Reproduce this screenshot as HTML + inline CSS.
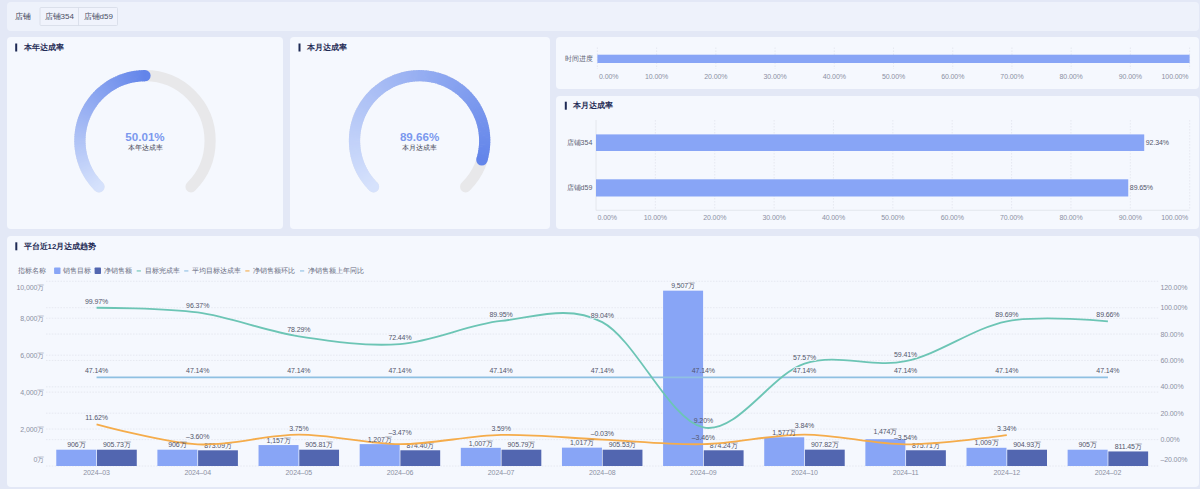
<!DOCTYPE html>
<html><head><meta charset="utf-8"><style>
html,body{margin:0;padding:0;}
body{width:1200px;height:489px;background:#e3e8f6;position:relative;overflow:hidden;font-family:"Liberation Sans", sans-serif;}
svg{position:absolute;left:0;top:0;}
svg text{font-family:"Liberation Sans", sans-serif;}
</style></head><body>
<div style="position:absolute;left:7px;top:2px;width:1192px;height:29px;background:#eef2fb;border-radius:4px"></div>
<div style="position:absolute;left:7px;top:37px;width:276px;height:192.3px;background:#f5f8fe;border-radius:4px"></div>
<div style="position:absolute;left:290px;top:37px;width:259.5px;height:192.3px;background:#f5f8fe;border-radius:4px"></div>
<div style="position:absolute;left:556px;top:37px;width:643px;height:52px;background:#f5f8fe;border-radius:4px"></div>
<div style="position:absolute;left:556px;top:96px;width:643px;height:133.3px;background:#f5f8fe;border-radius:4px"></div>
<div style="position:absolute;left:7px;top:236px;width:1192px;height:250.5px;background:#f5f8fe;border-radius:4px"></div>
<svg width="1200" height="489" viewBox="0 0 1200 489">
<text x="15.00" y="16.60" font-size="8" fill="#3d4257" text-anchor="start" dominant-baseline="central" font-weight="normal" >店铺</text>
<rect x="40" y="7.5" width="77.5" height="18" fill="#f0f3fc" stroke="#d6dbe7" stroke-width="0.8" rx="1"/>
<line x1="78.5" y1="7.5" x2="78.5" y2="25.5" stroke="#d6dbe7" stroke-width="0.8"/>
<text x="59.20" y="16.60" font-size="8" fill="#4a4f66" text-anchor="middle" dominant-baseline="central" font-weight="normal" >店铺354</text>
<text x="98.20" y="16.60" font-size="8" fill="#4a4f66" text-anchor="middle" dominant-baseline="central" font-weight="normal" >店铺d59</text>
<rect x="15.2" y="43.5" width="2" height="8" fill="#1e2a55"/>
<text x="23.50" y="47.50" font-size="7.8" fill="#1e2a55" text-anchor="start" dominant-baseline="central" font-weight="bold" >本年达成率</text>
<rect x="298.5" y="43.5" width="2" height="8" fill="#1e2a55"/>
<text x="306.80" y="47.50" font-size="7.8" fill="#1e2a55" text-anchor="start" dominant-baseline="central" font-weight="bold" >本月达成率</text>
<rect x="564.8" y="101.7" width="2" height="8" fill="#1e2a55"/>
<text x="573.10" y="105.70" font-size="7.8" fill="#1e2a55" text-anchor="start" dominant-baseline="central" font-weight="bold" >本月达成率</text>
<rect x="15.3" y="242.3" width="2" height="8" fill="#1e2a55"/>
<text x="23.60" y="246.30" font-size="7.8" fill="#1e2a55" text-anchor="start" dominant-baseline="central" font-weight="bold" >平台近12月达成趋势</text>
<path d="M98.97,186.83 A65.1,65.1 0 1 1 191.03,186.83" fill="none" stroke="#e8e8ea" stroke-width="11.2" stroke-linecap="round"/>
<circle cx="98.97" cy="186.83" r="5.6" fill="#d6e2fc"/>
<circle cx="145.03" cy="75.70" r="5.6" fill="#6385ea"/>
<path d="M98.97,186.83 A65.1,65.1 0 0 1 96.93,184.70" fill="none" stroke="#d5e1fc" stroke-width="11.2"/>
<path d="M97.39,185.20 A65.1,65.1 0 0 1 95.42,182.99" fill="none" stroke="#d3e0fc" stroke-width="11.2"/>
<path d="M95.87,183.51 A65.1,65.1 0 0 1 93.98,181.24" fill="none" stroke="#d2dffb" stroke-width="11.2"/>
<path d="M94.41,181.77 A65.1,65.1 0 0 1 92.60,179.43" fill="none" stroke="#d0ddfb" stroke-width="11.2"/>
<path d="M93.01,179.98 A65.1,65.1 0 0 1 91.29,177.58" fill="none" stroke="#cedcfb" stroke-width="11.2"/>
<path d="M91.67,178.14 A65.1,65.1 0 0 1 90.03,175.68" fill="none" stroke="#cddafb" stroke-width="11.2"/>
<path d="M90.40,176.26 A65.1,65.1 0 0 1 88.85,173.74" fill="none" stroke="#cbd9fa" stroke-width="11.2"/>
<path d="M89.20,174.33 A65.1,65.1 0 0 1 87.73,171.76" fill="none" stroke="#c9d8fa" stroke-width="11.2"/>
<path d="M88.06,172.36 A65.1,65.1 0 0 1 86.69,169.75" fill="none" stroke="#c8d6fa" stroke-width="11.2"/>
<path d="M87.00,170.35 A65.1,65.1 0 0 1 85.71,167.69" fill="none" stroke="#c6d5f9" stroke-width="11.2"/>
<path d="M86.00,168.31 A65.1,65.1 0 0 1 84.81,165.61" fill="none" stroke="#c4d4f9" stroke-width="11.2"/>
<path d="M85.08,166.24 A65.1,65.1 0 0 1 83.98,163.49" fill="none" stroke="#c2d2f9" stroke-width="11.2"/>
<path d="M84.22,164.13 A65.1,65.1 0 0 1 83.23,161.35" fill="none" stroke="#c1d1f9" stroke-width="11.2"/>
<path d="M83.45,161.99 A65.1,65.1 0 0 1 82.55,159.18" fill="none" stroke="#bfcff8" stroke-width="11.2"/>
<path d="M82.74,159.83 A65.1,65.1 0 0 1 81.95,156.99" fill="none" stroke="#bdcef8" stroke-width="11.2"/>
<path d="M82.12,157.65 A65.1,65.1 0 0 1 81.42,154.78" fill="none" stroke="#bccdf8" stroke-width="11.2"/>
<path d="M81.57,155.44 A65.1,65.1 0 0 1 80.97,152.55" fill="none" stroke="#bacbf8" stroke-width="11.2"/>
<path d="M81.10,153.22 A65.1,65.1 0 0 1 80.60,150.31" fill="none" stroke="#b8caf7" stroke-width="11.2"/>
<path d="M80.70,150.98 A65.1,65.1 0 0 1 80.31,148.06" fill="none" stroke="#b6c9f7" stroke-width="11.2"/>
<path d="M80.39,148.73 A65.1,65.1 0 0 1 80.09,145.79" fill="none" stroke="#b5c7f7" stroke-width="11.2"/>
<path d="M80.15,146.47 A65.1,65.1 0 0 1 79.96,143.53" fill="none" stroke="#b3c6f7" stroke-width="11.2"/>
<path d="M79.99,144.21 A65.1,65.1 0 0 1 79.90,141.25" fill="none" stroke="#b1c4f6" stroke-width="11.2"/>
<path d="M79.91,141.94 A65.1,65.1 0 0 1 79.93,138.98" fill="none" stroke="#b0c3f6" stroke-width="11.2"/>
<path d="M79.91,139.66 A65.1,65.1 0 0 1 80.03,136.71" fill="none" stroke="#aec2f6" stroke-width="11.2"/>
<path d="M79.99,137.39 A65.1,65.1 0 0 1 80.21,134.45" fill="none" stroke="#acc0f5" stroke-width="11.2"/>
<path d="M80.15,135.13 A65.1,65.1 0 0 1 80.47,132.19" fill="none" stroke="#abbff5" stroke-width="11.2"/>
<path d="M80.39,132.87 A65.1,65.1 0 0 1 80.81,129.94" fill="none" stroke="#a9bdf5" stroke-width="11.2"/>
<path d="M80.70,130.62 A65.1,65.1 0 0 1 81.23,127.71" fill="none" stroke="#a7bcf5" stroke-width="11.2"/>
<path d="M81.10,128.38 A65.1,65.1 0 0 1 81.73,125.49" fill="none" stroke="#a5bbf4" stroke-width="11.2"/>
<path d="M81.57,126.16 A65.1,65.1 0 0 1 82.30,123.29" fill="none" stroke="#a4b9f4" stroke-width="11.2"/>
<path d="M82.12,123.95 A65.1,65.1 0 0 1 82.95,121.12" fill="none" stroke="#a2b8f4" stroke-width="11.2"/>
<path d="M82.74,121.77 A65.1,65.1 0 0 1 83.67,118.96" fill="none" stroke="#a0b7f4" stroke-width="11.2"/>
<path d="M83.45,119.61 A65.1,65.1 0 0 1 84.47,116.84" fill="none" stroke="#9fb5f3" stroke-width="11.2"/>
<path d="M84.22,117.47 A65.1,65.1 0 0 1 85.34,114.74" fill="none" stroke="#9db4f3" stroke-width="11.2"/>
<path d="M85.08,115.36 A65.1,65.1 0 0 1 86.29,112.67" fill="none" stroke="#9bb2f3" stroke-width="11.2"/>
<path d="M86.00,113.29 A65.1,65.1 0 0 1 87.31,110.64" fill="none" stroke="#9ab1f3" stroke-width="11.2"/>
<path d="M87.00,111.25 A65.1,65.1 0 0 1 88.40,108.64" fill="none" stroke="#98b0f2" stroke-width="11.2"/>
<path d="M88.06,109.24 A65.1,65.1 0 0 1 89.55,106.69" fill="none" stroke="#96aef2" stroke-width="11.2"/>
<path d="M89.20,107.27 A65.1,65.1 0 0 1 90.78,104.77" fill="none" stroke="#94adf2" stroke-width="11.2"/>
<path d="M90.40,105.34 A65.1,65.1 0 0 1 92.07,102.90" fill="none" stroke="#93acf1" stroke-width="11.2"/>
<path d="M91.67,103.46 A65.1,65.1 0 0 1 93.42,101.08" fill="none" stroke="#91aaf1" stroke-width="11.2"/>
<path d="M93.01,101.62 A65.1,65.1 0 0 1 94.84,99.30" fill="none" stroke="#8fa9f1" stroke-width="11.2"/>
<path d="M94.41,99.83 A65.1,65.1 0 0 1 96.32,97.58" fill="none" stroke="#8ea7f1" stroke-width="11.2"/>
<path d="M95.87,98.09 A65.1,65.1 0 0 1 97.86,95.91" fill="none" stroke="#8ca6f0" stroke-width="11.2"/>
<path d="M97.39,96.40 A65.1,65.1 0 0 1 99.45,94.29" fill="none" stroke="#8aa5f0" stroke-width="11.2"/>
<path d="M98.97,94.77 A65.1,65.1 0 0 1 101.10,92.73" fill="none" stroke="#88a3f0" stroke-width="11.2"/>
<path d="M100.60,93.19 A65.1,65.1 0 0 1 102.81,91.22" fill="none" stroke="#87a2f0" stroke-width="11.2"/>
<path d="M102.29,91.67 A65.1,65.1 0 0 1 104.56,89.78" fill="none" stroke="#85a1ef" stroke-width="11.2"/>
<path d="M104.03,90.21 A65.1,65.1 0 0 1 106.37,88.40" fill="none" stroke="#839fef" stroke-width="11.2"/>
<path d="M105.82,88.81 A65.1,65.1 0 0 1 108.22,87.09" fill="none" stroke="#829eef" stroke-width="11.2"/>
<path d="M107.66,87.47 A65.1,65.1 0 0 1 110.12,85.83" fill="none" stroke="#809cef" stroke-width="11.2"/>
<path d="M109.54,86.20 A65.1,65.1 0 0 1 112.06,84.65" fill="none" stroke="#7e9bee" stroke-width="11.2"/>
<path d="M111.47,85.00 A65.1,65.1 0 0 1 114.04,83.53" fill="none" stroke="#7d9aee" stroke-width="11.2"/>
<path d="M113.44,83.86 A65.1,65.1 0 0 1 116.05,82.49" fill="none" stroke="#7b98ee" stroke-width="11.2"/>
<path d="M115.45,82.80 A65.1,65.1 0 0 1 118.11,81.51" fill="none" stroke="#7997ed" stroke-width="11.2"/>
<path d="M117.49,81.80 A65.1,65.1 0 0 1 120.19,80.61" fill="none" stroke="#7796ed" stroke-width="11.2"/>
<path d="M119.56,80.88 A65.1,65.1 0 0 1 122.31,79.78" fill="none" stroke="#7694ed" stroke-width="11.2"/>
<path d="M121.67,80.02 A65.1,65.1 0 0 1 124.45,79.03" fill="none" stroke="#7493ed" stroke-width="11.2"/>
<path d="M123.81,79.25 A65.1,65.1 0 0 1 126.62,78.35" fill="none" stroke="#7291ec" stroke-width="11.2"/>
<path d="M125.97,78.54 A65.1,65.1 0 0 1 128.81,77.75" fill="none" stroke="#7190ec" stroke-width="11.2"/>
<path d="M128.15,77.92 A65.1,65.1 0 0 1 131.02,77.22" fill="none" stroke="#6f8fec" stroke-width="11.2"/>
<path d="M130.36,77.37 A65.1,65.1 0 0 1 133.25,76.77" fill="none" stroke="#6d8dec" stroke-width="11.2"/>
<path d="M132.58,76.90 A65.1,65.1 0 0 1 135.49,76.40" fill="none" stroke="#6c8ceb" stroke-width="11.2"/>
<path d="M134.82,76.50 A65.1,65.1 0 0 1 137.74,76.11" fill="none" stroke="#6a8beb" stroke-width="11.2"/>
<path d="M137.07,76.19 A65.1,65.1 0 0 1 140.01,75.89" fill="none" stroke="#6889eb" stroke-width="11.2"/>
<path d="M139.33,75.95 A65.1,65.1 0 0 1 142.27,75.76" fill="none" stroke="#6688eb" stroke-width="11.2"/>
<path d="M141.59,75.79 A65.1,65.1 0 0 1 144.55,75.70" fill="none" stroke="#6586ea" stroke-width="11.2"/>
<path d="M143.86,75.71 A65.1,65.1 0 0 1 145.03,75.70" fill="none" stroke="#6385ea" stroke-width="11.2"/>
<text x="145.00" y="136.10" font-size="11.6" fill="#7b98ee" text-anchor="middle" dominant-baseline="central" font-weight="bold" >50.01%</text>
<text x="145.00" y="147.40" font-size="6.8" fill="#3f4354" text-anchor="middle" dominant-baseline="central" font-weight="normal" >本年达成率</text>
<path d="M373.57,186.83 A65.1,65.1 0 1 1 465.63,186.83" fill="none" stroke="#e8e8ea" stroke-width="11.2" stroke-linecap="round"/>
<circle cx="373.57" cy="186.83" r="5.6" fill="#d6e2fc"/>
<circle cx="481.83" cy="159.92" r="5.6" fill="#6385ea"/>
<path d="M373.57,186.83 A65.1,65.1 0 0 1 371.53,184.70" fill="none" stroke="#d6e2fc" stroke-width="11.2"/>
<path d="M371.99,185.20 A65.1,65.1 0 0 1 370.02,182.99" fill="none" stroke="#d5e1fc" stroke-width="11.2"/>
<path d="M370.47,183.51 A65.1,65.1 0 0 1 368.58,181.24" fill="none" stroke="#d4e0fc" stroke-width="11.2"/>
<path d="M369.01,181.77 A65.1,65.1 0 0 1 367.20,179.43" fill="none" stroke="#d3dffb" stroke-width="11.2"/>
<path d="M367.61,179.98 A65.1,65.1 0 0 1 365.89,177.58" fill="none" stroke="#d2dffb" stroke-width="11.2"/>
<path d="M366.27,178.14 A65.1,65.1 0 0 1 364.63,175.68" fill="none" stroke="#d1defb" stroke-width="11.2"/>
<path d="M365.00,176.26 A65.1,65.1 0 0 1 363.45,173.74" fill="none" stroke="#d0ddfb" stroke-width="11.2"/>
<path d="M363.80,174.33 A65.1,65.1 0 0 1 362.33,171.76" fill="none" stroke="#cfdcfb" stroke-width="11.2"/>
<path d="M362.66,172.36 A65.1,65.1 0 0 1 361.29,169.75" fill="none" stroke="#cedbfb" stroke-width="11.2"/>
<path d="M361.60,170.35 A65.1,65.1 0 0 1 360.31,167.69" fill="none" stroke="#cddbfb" stroke-width="11.2"/>
<path d="M360.60,168.31 A65.1,65.1 0 0 1 359.41,165.61" fill="none" stroke="#ccdafa" stroke-width="11.2"/>
<path d="M359.68,166.24 A65.1,65.1 0 0 1 358.58,163.49" fill="none" stroke="#cbd9fa" stroke-width="11.2"/>
<path d="M358.82,164.13 A65.1,65.1 0 0 1 357.83,161.35" fill="none" stroke="#cad8fa" stroke-width="11.2"/>
<path d="M358.05,161.99 A65.1,65.1 0 0 1 357.15,159.18" fill="none" stroke="#c9d8fa" stroke-width="11.2"/>
<path d="M357.34,159.83 A65.1,65.1 0 0 1 356.55,156.99" fill="none" stroke="#c8d7fa" stroke-width="11.2"/>
<path d="M356.72,157.65 A65.1,65.1 0 0 1 356.02,154.78" fill="none" stroke="#c7d6fa" stroke-width="11.2"/>
<path d="M356.17,155.44 A65.1,65.1 0 0 1 355.57,152.55" fill="none" stroke="#c6d5fa" stroke-width="11.2"/>
<path d="M355.70,153.22 A65.1,65.1 0 0 1 355.20,150.31" fill="none" stroke="#c5d5f9" stroke-width="11.2"/>
<path d="M355.30,150.98 A65.1,65.1 0 0 1 354.91,148.06" fill="none" stroke="#c4d4f9" stroke-width="11.2"/>
<path d="M354.99,148.73 A65.1,65.1 0 0 1 354.69,145.79" fill="none" stroke="#c3d3f9" stroke-width="11.2"/>
<path d="M354.75,146.47 A65.1,65.1 0 0 1 354.56,143.53" fill="none" stroke="#c3d2f9" stroke-width="11.2"/>
<path d="M354.59,144.21 A65.1,65.1 0 0 1 354.50,141.25" fill="none" stroke="#c2d1f9" stroke-width="11.2"/>
<path d="M354.51,141.94 A65.1,65.1 0 0 1 354.53,138.98" fill="none" stroke="#c1d1f9" stroke-width="11.2"/>
<path d="M354.51,139.66 A65.1,65.1 0 0 1 354.63,136.71" fill="none" stroke="#c0d0f9" stroke-width="11.2"/>
<path d="M354.59,137.39 A65.1,65.1 0 0 1 354.81,134.45" fill="none" stroke="#bfcff8" stroke-width="11.2"/>
<path d="M354.75,135.13 A65.1,65.1 0 0 1 355.07,132.19" fill="none" stroke="#becef8" stroke-width="11.2"/>
<path d="M354.99,132.87 A65.1,65.1 0 0 1 355.41,129.94" fill="none" stroke="#bdcef8" stroke-width="11.2"/>
<path d="M355.30,130.62 A65.1,65.1 0 0 1 355.83,127.71" fill="none" stroke="#bccdf8" stroke-width="11.2"/>
<path d="M355.70,128.38 A65.1,65.1 0 0 1 356.33,125.49" fill="none" stroke="#bbccf8" stroke-width="11.2"/>
<path d="M356.17,126.16 A65.1,65.1 0 0 1 356.90,123.29" fill="none" stroke="#bacbf8" stroke-width="11.2"/>
<path d="M356.72,123.95 A65.1,65.1 0 0 1 357.55,121.12" fill="none" stroke="#b9cbf7" stroke-width="11.2"/>
<path d="M357.34,121.77 A65.1,65.1 0 0 1 358.27,118.96" fill="none" stroke="#b8caf7" stroke-width="11.2"/>
<path d="M358.05,119.61 A65.1,65.1 0 0 1 359.07,116.84" fill="none" stroke="#b7c9f7" stroke-width="11.2"/>
<path d="M358.82,117.47 A65.1,65.1 0 0 1 359.94,114.74" fill="none" stroke="#b6c8f7" stroke-width="11.2"/>
<path d="M359.68,115.36 A65.1,65.1 0 0 1 360.89,112.67" fill="none" stroke="#b5c7f7" stroke-width="11.2"/>
<path d="M360.60,113.29 A65.1,65.1 0 0 1 361.91,110.64" fill="none" stroke="#b4c7f7" stroke-width="11.2"/>
<path d="M361.60,111.25 A65.1,65.1 0 0 1 363.00,108.64" fill="none" stroke="#b3c6f7" stroke-width="11.2"/>
<path d="M362.66,109.24 A65.1,65.1 0 0 1 364.15,106.69" fill="none" stroke="#b2c5f6" stroke-width="11.2"/>
<path d="M363.80,107.27 A65.1,65.1 0 0 1 365.38,104.77" fill="none" stroke="#b1c4f6" stroke-width="11.2"/>
<path d="M365.00,105.34 A65.1,65.1 0 0 1 366.67,102.90" fill="none" stroke="#b0c4f6" stroke-width="11.2"/>
<path d="M366.27,103.46 A65.1,65.1 0 0 1 368.02,101.08" fill="none" stroke="#b0c3f6" stroke-width="11.2"/>
<path d="M367.61,101.62 A65.1,65.1 0 0 1 369.44,99.30" fill="none" stroke="#afc2f6" stroke-width="11.2"/>
<path d="M369.01,99.83 A65.1,65.1 0 0 1 370.92,97.58" fill="none" stroke="#aec1f6" stroke-width="11.2"/>
<path d="M370.47,98.09 A65.1,65.1 0 0 1 372.46,95.91" fill="none" stroke="#adc1f6" stroke-width="11.2"/>
<path d="M371.99,96.40 A65.1,65.1 0 0 1 374.05,94.29" fill="none" stroke="#acc0f5" stroke-width="11.2"/>
<path d="M373.57,94.77 A65.1,65.1 0 0 1 375.70,92.73" fill="none" stroke="#abbff5" stroke-width="11.2"/>
<path d="M375.20,93.19 A65.1,65.1 0 0 1 377.41,91.22" fill="none" stroke="#aabef5" stroke-width="11.2"/>
<path d="M376.89,91.67 A65.1,65.1 0 0 1 379.16,89.78" fill="none" stroke="#a9bef5" stroke-width="11.2"/>
<path d="M378.63,90.21 A65.1,65.1 0 0 1 380.97,88.40" fill="none" stroke="#a8bdf5" stroke-width="11.2"/>
<path d="M380.42,88.81 A65.1,65.1 0 0 1 382.82,87.09" fill="none" stroke="#a7bcf5" stroke-width="11.2"/>
<path d="M382.26,87.47 A65.1,65.1 0 0 1 384.72,85.83" fill="none" stroke="#a6bbf4" stroke-width="11.2"/>
<path d="M384.14,86.20 A65.1,65.1 0 0 1 386.66,84.65" fill="none" stroke="#a5baf4" stroke-width="11.2"/>
<path d="M386.07,85.00 A65.1,65.1 0 0 1 388.64,83.53" fill="none" stroke="#a4baf4" stroke-width="11.2"/>
<path d="M388.04,83.86 A65.1,65.1 0 0 1 390.65,82.49" fill="none" stroke="#a3b9f4" stroke-width="11.2"/>
<path d="M390.05,82.80 A65.1,65.1 0 0 1 392.71,81.51" fill="none" stroke="#a2b8f4" stroke-width="11.2"/>
<path d="M392.09,81.80 A65.1,65.1 0 0 1 394.79,80.61" fill="none" stroke="#a1b7f4" stroke-width="11.2"/>
<path d="M394.16,80.88 A65.1,65.1 0 0 1 396.91,79.78" fill="none" stroke="#a0b7f4" stroke-width="11.2"/>
<path d="M396.27,80.02 A65.1,65.1 0 0 1 399.05,79.03" fill="none" stroke="#9fb6f3" stroke-width="11.2"/>
<path d="M398.41,79.25 A65.1,65.1 0 0 1 401.22,78.35" fill="none" stroke="#9eb5f3" stroke-width="11.2"/>
<path d="M400.57,78.54 A65.1,65.1 0 0 1 403.41,77.75" fill="none" stroke="#9db4f3" stroke-width="11.2"/>
<path d="M402.75,77.92 A65.1,65.1 0 0 1 405.62,77.22" fill="none" stroke="#9db4f3" stroke-width="11.2"/>
<path d="M404.96,77.37 A65.1,65.1 0 0 1 407.85,76.77" fill="none" stroke="#9cb3f3" stroke-width="11.2"/>
<path d="M407.18,76.90 A65.1,65.1 0 0 1 410.09,76.40" fill="none" stroke="#9bb2f3" stroke-width="11.2"/>
<path d="M409.42,76.50 A65.1,65.1 0 0 1 412.34,76.11" fill="none" stroke="#9ab1f3" stroke-width="11.2"/>
<path d="M411.67,76.19 A65.1,65.1 0 0 1 414.61,75.89" fill="none" stroke="#99b0f2" stroke-width="11.2"/>
<path d="M413.93,75.95 A65.1,65.1 0 0 1 416.87,75.76" fill="none" stroke="#98b0f2" stroke-width="11.2"/>
<path d="M416.19,75.79 A65.1,65.1 0 0 1 419.15,75.70" fill="none" stroke="#97aff2" stroke-width="11.2"/>
<path d="M418.46,75.71 A65.1,65.1 0 0 1 421.42,75.73" fill="none" stroke="#96aef2" stroke-width="11.2"/>
<path d="M420.74,75.71 A65.1,65.1 0 0 1 423.69,75.83" fill="none" stroke="#95adf2" stroke-width="11.2"/>
<path d="M423.01,75.79 A65.1,65.1 0 0 1 425.95,76.01" fill="none" stroke="#94adf2" stroke-width="11.2"/>
<path d="M425.27,75.95 A65.1,65.1 0 0 1 428.21,76.27" fill="none" stroke="#93acf2" stroke-width="11.2"/>
<path d="M427.53,76.19 A65.1,65.1 0 0 1 430.46,76.61" fill="none" stroke="#92abf1" stroke-width="11.2"/>
<path d="M429.78,76.50 A65.1,65.1 0 0 1 432.69,77.03" fill="none" stroke="#91aaf1" stroke-width="11.2"/>
<path d="M432.02,76.90 A65.1,65.1 0 0 1 434.91,77.53" fill="none" stroke="#90aaf1" stroke-width="11.2"/>
<path d="M434.24,77.37 A65.1,65.1 0 0 1 437.11,78.10" fill="none" stroke="#8fa9f1" stroke-width="11.2"/>
<path d="M436.45,77.92 A65.1,65.1 0 0 1 439.28,78.75" fill="none" stroke="#8ea8f1" stroke-width="11.2"/>
<path d="M438.63,78.54 A65.1,65.1 0 0 1 441.44,79.47" fill="none" stroke="#8da7f1" stroke-width="11.2"/>
<path d="M440.79,79.25 A65.1,65.1 0 0 1 443.56,80.27" fill="none" stroke="#8ca6f0" stroke-width="11.2"/>
<path d="M442.93,80.02 A65.1,65.1 0 0 1 445.66,81.14" fill="none" stroke="#8ba6f0" stroke-width="11.2"/>
<path d="M445.04,80.88 A65.1,65.1 0 0 1 447.73,82.09" fill="none" stroke="#8aa5f0" stroke-width="11.2"/>
<path d="M447.11,81.80 A65.1,65.1 0 0 1 449.76,83.11" fill="none" stroke="#8aa4f0" stroke-width="11.2"/>
<path d="M449.15,82.80 A65.1,65.1 0 0 1 451.76,84.20" fill="none" stroke="#89a3f0" stroke-width="11.2"/>
<path d="M451.16,83.86 A65.1,65.1 0 0 1 453.71,85.35" fill="none" stroke="#88a3f0" stroke-width="11.2"/>
<path d="M453.13,85.00 A65.1,65.1 0 0 1 455.63,86.58" fill="none" stroke="#87a2f0" stroke-width="11.2"/>
<path d="M455.06,86.20 A65.1,65.1 0 0 1 457.50,87.87" fill="none" stroke="#86a1ef" stroke-width="11.2"/>
<path d="M456.94,87.47 A65.1,65.1 0 0 1 459.32,89.22" fill="none" stroke="#85a0ef" stroke-width="11.2"/>
<path d="M458.78,88.81 A65.1,65.1 0 0 1 461.10,90.64" fill="none" stroke="#84a0ef" stroke-width="11.2"/>
<path d="M460.57,90.21 A65.1,65.1 0 0 1 462.82,92.12" fill="none" stroke="#839fef" stroke-width="11.2"/>
<path d="M462.31,91.67 A65.1,65.1 0 0 1 464.49,93.66" fill="none" stroke="#829eef" stroke-width="11.2"/>
<path d="M464.00,93.19 A65.1,65.1 0 0 1 466.11,95.25" fill="none" stroke="#819def" stroke-width="11.2"/>
<path d="M465.63,94.77 A65.1,65.1 0 0 1 467.67,96.90" fill="none" stroke="#809cef" stroke-width="11.2"/>
<path d="M467.21,96.40 A65.1,65.1 0 0 1 469.18,98.61" fill="none" stroke="#7f9cee" stroke-width="11.2"/>
<path d="M468.73,98.09 A65.1,65.1 0 0 1 470.62,100.36" fill="none" stroke="#7e9bee" stroke-width="11.2"/>
<path d="M470.19,99.83 A65.1,65.1 0 0 1 472.00,102.17" fill="none" stroke="#7d9aee" stroke-width="11.2"/>
<path d="M471.59,101.62 A65.1,65.1 0 0 1 473.31,104.02" fill="none" stroke="#7c99ee" stroke-width="11.2"/>
<path d="M472.93,103.46 A65.1,65.1 0 0 1 474.57,105.92" fill="none" stroke="#7b99ee" stroke-width="11.2"/>
<path d="M474.20,105.34 A65.1,65.1 0 0 1 475.75,107.86" fill="none" stroke="#7a98ee" stroke-width="11.2"/>
<path d="M475.40,107.27 A65.1,65.1 0 0 1 476.87,109.84" fill="none" stroke="#7997ee" stroke-width="11.2"/>
<path d="M476.54,109.24 A65.1,65.1 0 0 1 477.91,111.85" fill="none" stroke="#7896ed" stroke-width="11.2"/>
<path d="M477.60,111.25 A65.1,65.1 0 0 1 478.89,113.91" fill="none" stroke="#7796ed" stroke-width="11.2"/>
<path d="M478.60,113.29 A65.1,65.1 0 0 1 479.79,115.99" fill="none" stroke="#7795ed" stroke-width="11.2"/>
<path d="M479.52,115.36 A65.1,65.1 0 0 1 480.62,118.11" fill="none" stroke="#7694ed" stroke-width="11.2"/>
<path d="M480.38,117.47 A65.1,65.1 0 0 1 481.37,120.25" fill="none" stroke="#7593ed" stroke-width="11.2"/>
<path d="M481.15,119.61 A65.1,65.1 0 0 1 482.05,122.42" fill="none" stroke="#7492ed" stroke-width="11.2"/>
<path d="M481.86,121.77 A65.1,65.1 0 0 1 482.65,124.61" fill="none" stroke="#7392ec" stroke-width="11.2"/>
<path d="M482.48,123.95 A65.1,65.1 0 0 1 483.18,126.82" fill="none" stroke="#7291ec" stroke-width="11.2"/>
<path d="M483.03,126.16 A65.1,65.1 0 0 1 483.63,129.05" fill="none" stroke="#7190ec" stroke-width="11.2"/>
<path d="M483.50,128.38 A65.1,65.1 0 0 1 484.00,131.29" fill="none" stroke="#708fec" stroke-width="11.2"/>
<path d="M483.90,130.62 A65.1,65.1 0 0 1 484.29,133.54" fill="none" stroke="#6f8fec" stroke-width="11.2"/>
<path d="M484.21,132.87 A65.1,65.1 0 0 1 484.51,135.81" fill="none" stroke="#6e8eec" stroke-width="11.2"/>
<path d="M484.45,135.13 A65.1,65.1 0 0 1 484.64,138.07" fill="none" stroke="#6d8dec" stroke-width="11.2"/>
<path d="M484.61,137.39 A65.1,65.1 0 0 1 484.70,140.35" fill="none" stroke="#6c8ceb" stroke-width="11.2"/>
<path d="M484.69,139.66 A65.1,65.1 0 0 1 484.67,142.62" fill="none" stroke="#6b8ceb" stroke-width="11.2"/>
<path d="M484.69,141.94 A65.1,65.1 0 0 1 484.57,144.89" fill="none" stroke="#6a8beb" stroke-width="11.2"/>
<path d="M484.61,144.21 A65.1,65.1 0 0 1 484.39,147.15" fill="none" stroke="#698aeb" stroke-width="11.2"/>
<path d="M484.45,146.47 A65.1,65.1 0 0 1 484.13,149.41" fill="none" stroke="#6889eb" stroke-width="11.2"/>
<path d="M484.21,148.73 A65.1,65.1 0 0 1 483.79,151.66" fill="none" stroke="#6788eb" stroke-width="11.2"/>
<path d="M483.90,150.98 A65.1,65.1 0 0 1 483.37,153.89" fill="none" stroke="#6688eb" stroke-width="11.2"/>
<path d="M483.50,153.22 A65.1,65.1 0 0 1 482.87,156.11" fill="none" stroke="#6587ea" stroke-width="11.2"/>
<path d="M483.03,155.44 A65.1,65.1 0 0 1 482.30,158.31" fill="none" stroke="#6486ea" stroke-width="11.2"/>
<path d="M482.48,157.65 A65.1,65.1 0 0 1 481.83,159.92" fill="none" stroke="#6485ea" stroke-width="11.2"/>
<path d="M481.86,159.83 A65.1,65.1 0 0 1 481.83,159.92" fill="none" stroke="#6385ea" stroke-width="11.2"/>
<text x="419.60" y="136.10" font-size="11.6" fill="#7b98ee" text-anchor="middle" dominant-baseline="central" font-weight="bold" >89.66%</text>
<text x="419.60" y="147.40" font-size="6.8" fill="#3f4354" text-anchor="middle" dominant-baseline="central" font-weight="normal" >本月达成率</text>
<line x1="597.40" y1="47.5" x2="597.40" y2="69" stroke="#e2e5ee" stroke-width="0.8" stroke-dasharray="1.5 1.5"/>
<line x1="656.62" y1="47.5" x2="656.62" y2="69" stroke="#e2e5ee" stroke-width="0.8" stroke-dasharray="1.5 1.5"/>
<line x1="715.84" y1="47.5" x2="715.84" y2="69" stroke="#e2e5ee" stroke-width="0.8" stroke-dasharray="1.5 1.5"/>
<line x1="775.06" y1="47.5" x2="775.06" y2="69" stroke="#e2e5ee" stroke-width="0.8" stroke-dasharray="1.5 1.5"/>
<line x1="834.28" y1="47.5" x2="834.28" y2="69" stroke="#e2e5ee" stroke-width="0.8" stroke-dasharray="1.5 1.5"/>
<line x1="893.50" y1="47.5" x2="893.50" y2="69" stroke="#e2e5ee" stroke-width="0.8" stroke-dasharray="1.5 1.5"/>
<line x1="952.72" y1="47.5" x2="952.72" y2="69" stroke="#e2e5ee" stroke-width="0.8" stroke-dasharray="1.5 1.5"/>
<line x1="1011.94" y1="47.5" x2="1011.94" y2="69" stroke="#e2e5ee" stroke-width="0.8" stroke-dasharray="1.5 1.5"/>
<line x1="1071.16" y1="47.5" x2="1071.16" y2="69" stroke="#e2e5ee" stroke-width="0.8" stroke-dasharray="1.5 1.5"/>
<line x1="1130.38" y1="47.5" x2="1130.38" y2="69" stroke="#e2e5ee" stroke-width="0.8" stroke-dasharray="1.5 1.5"/>
<line x1="1189.60" y1="47.5" x2="1189.60" y2="69" stroke="#e2e5ee" stroke-width="0.8" stroke-dasharray="1.5 1.5"/>
<rect x="597.4" y="54.7" width="592.20" height="8.3" fill="#88a5f6"/>
<text x="593.40" y="58.80" font-size="7" fill="#5a5e72" text-anchor="end" dominant-baseline="central" font-weight="normal" >时间进度</text>
<text x="599.00" y="76.30" font-size="7" fill="#8b90a3" text-anchor="start" dominant-baseline="central" font-weight="normal" letter-spacing="-0.1">0.00%</text>
<text x="656.62" y="76.30" font-size="7" fill="#8b90a3" text-anchor="middle" dominant-baseline="central" font-weight="normal" letter-spacing="-0.1">10.00%</text>
<text x="715.84" y="76.30" font-size="7" fill="#8b90a3" text-anchor="middle" dominant-baseline="central" font-weight="normal" letter-spacing="-0.1">20.00%</text>
<text x="775.06" y="76.30" font-size="7" fill="#8b90a3" text-anchor="middle" dominant-baseline="central" font-weight="normal" letter-spacing="-0.1">30.00%</text>
<text x="834.28" y="76.30" font-size="7" fill="#8b90a3" text-anchor="middle" dominant-baseline="central" font-weight="normal" letter-spacing="-0.1">40.00%</text>
<text x="893.50" y="76.30" font-size="7" fill="#8b90a3" text-anchor="middle" dominant-baseline="central" font-weight="normal" letter-spacing="-0.1">50.00%</text>
<text x="952.72" y="76.30" font-size="7" fill="#8b90a3" text-anchor="middle" dominant-baseline="central" font-weight="normal" letter-spacing="-0.1">60.00%</text>
<text x="1011.94" y="76.30" font-size="7" fill="#8b90a3" text-anchor="middle" dominant-baseline="central" font-weight="normal" letter-spacing="-0.1">70.00%</text>
<text x="1071.16" y="76.30" font-size="7" fill="#8b90a3" text-anchor="middle" dominant-baseline="central" font-weight="normal" letter-spacing="-0.1">80.00%</text>
<text x="1130.38" y="76.30" font-size="7" fill="#8b90a3" text-anchor="middle" dominant-baseline="central" font-weight="normal" letter-spacing="-0.1">90.00%</text>
<text x="1188.50" y="76.30" font-size="7" fill="#8b90a3" text-anchor="end" dominant-baseline="central" font-weight="normal" letter-spacing="-0.1">100.00%</text>
<line x1="655.37" y1="120" x2="655.37" y2="210" stroke="#e2e5ee" stroke-width="0.8" stroke-dasharray="1.5 1.5"/>
<line x1="714.74" y1="120" x2="714.74" y2="210" stroke="#e2e5ee" stroke-width="0.8" stroke-dasharray="1.5 1.5"/>
<line x1="774.11" y1="120" x2="774.11" y2="210" stroke="#e2e5ee" stroke-width="0.8" stroke-dasharray="1.5 1.5"/>
<line x1="833.48" y1="120" x2="833.48" y2="210" stroke="#e2e5ee" stroke-width="0.8" stroke-dasharray="1.5 1.5"/>
<line x1="892.85" y1="120" x2="892.85" y2="210" stroke="#e2e5ee" stroke-width="0.8" stroke-dasharray="1.5 1.5"/>
<line x1="952.22" y1="120" x2="952.22" y2="210" stroke="#e2e5ee" stroke-width="0.8" stroke-dasharray="1.5 1.5"/>
<line x1="1011.59" y1="120" x2="1011.59" y2="210" stroke="#e2e5ee" stroke-width="0.8" stroke-dasharray="1.5 1.5"/>
<line x1="1070.96" y1="120" x2="1070.96" y2="210" stroke="#e2e5ee" stroke-width="0.8" stroke-dasharray="1.5 1.5"/>
<line x1="1130.33" y1="120" x2="1130.33" y2="210" stroke="#e2e5ee" stroke-width="0.8" stroke-dasharray="1.5 1.5"/>
<line x1="1189.70" y1="120" x2="1189.70" y2="210" stroke="#e2e5ee" stroke-width="0.8" stroke-dasharray="1.5 1.5"/>
<line x1="596" y1="120" x2="596" y2="210.3" stroke="#dfe2ea" stroke-width="0.8"/>
<line x1="596" y1="210.3" x2="1189.7" y2="210.3" stroke="#dfe2ea" stroke-width="0.8"/>
<rect x="596" y="134.4" width="548.22" height="16.60" fill="#88a5f6"/>
<text x="592.30" y="142.70" font-size="7" fill="#5a5e72" text-anchor="end" dominant-baseline="central" font-weight="normal" >店铺354</text>
<text x="1145.82" y="142.70" font-size="7" fill="#52566b" text-anchor="start" dominant-baseline="central" font-weight="normal" letter-spacing="-0.1">92.34%</text>
<rect x="596" y="179.3" width="532.25" height="17.20" fill="#88a5f6"/>
<text x="592.30" y="187.90" font-size="7" fill="#5a5e72" text-anchor="end" dominant-baseline="central" font-weight="normal" >店铺d59</text>
<text x="1129.85" y="187.90" font-size="7" fill="#52566b" text-anchor="start" dominant-baseline="central" font-weight="normal" letter-spacing="-0.1">89.65%</text>
<text x="597.50" y="217.60" font-size="7" fill="#8b90a3" text-anchor="start" dominant-baseline="central" font-weight="normal" letter-spacing="-0.1">0.00%</text>
<text x="655.37" y="217.60" font-size="7" fill="#8b90a3" text-anchor="middle" dominant-baseline="central" font-weight="normal" letter-spacing="-0.1">10.00%</text>
<text x="714.74" y="217.60" font-size="7" fill="#8b90a3" text-anchor="middle" dominant-baseline="central" font-weight="normal" letter-spacing="-0.1">20.00%</text>
<text x="774.11" y="217.60" font-size="7" fill="#8b90a3" text-anchor="middle" dominant-baseline="central" font-weight="normal" letter-spacing="-0.1">30.00%</text>
<text x="833.48" y="217.60" font-size="7" fill="#8b90a3" text-anchor="middle" dominant-baseline="central" font-weight="normal" letter-spacing="-0.1">40.00%</text>
<text x="892.85" y="217.60" font-size="7" fill="#8b90a3" text-anchor="middle" dominant-baseline="central" font-weight="normal" letter-spacing="-0.1">50.00%</text>
<text x="952.22" y="217.60" font-size="7" fill="#8b90a3" text-anchor="middle" dominant-baseline="central" font-weight="normal" letter-spacing="-0.1">60.00%</text>
<text x="1011.59" y="217.60" font-size="7" fill="#8b90a3" text-anchor="middle" dominant-baseline="central" font-weight="normal" letter-spacing="-0.1">70.00%</text>
<text x="1070.96" y="217.60" font-size="7" fill="#8b90a3" text-anchor="middle" dominant-baseline="central" font-weight="normal" letter-spacing="-0.1">80.00%</text>
<text x="1130.33" y="217.60" font-size="7" fill="#8b90a3" text-anchor="middle" dominant-baseline="central" font-weight="normal" letter-spacing="-0.1">90.00%</text>
<text x="1188.20" y="217.60" font-size="7" fill="#8b90a3" text-anchor="end" dominant-baseline="central" font-weight="normal" letter-spacing="-0.1">100.00%</text>
<text x="18.30" y="270.60" font-size="7" fill="#676b80" text-anchor="start" dominant-baseline="central" font-weight="normal" >指标名称</text>
<rect x="54.1" y="267.4" width="6.4" height="6.7" rx="0.8" fill="#88a5f6"/>
<text x="63.30" y="270.60" font-size="7" fill="#676b80" text-anchor="start" dominant-baseline="central" font-weight="normal" >销售目标</text>
<rect x="94.6" y="267.4" width="6.4" height="6.7" rx="0.8" fill="#5266b0"/>
<text x="103.70" y="270.60" font-size="7" fill="#676b80" text-anchor="start" dominant-baseline="central" font-weight="normal" >净销售额</text>
<line x1="136.7" y1="270.9" x2="140.89999999999998" y2="270.9" stroke="#6cc5b5" stroke-width="1.7" stroke-opacity="0.65"/>
<text x="144.70" y="270.60" font-size="7" fill="#676b80" text-anchor="start" dominant-baseline="central" font-weight="normal" >目标完成率</text>
<line x1="184.2" y1="270.9" x2="188.39999999999998" y2="270.9" stroke="#8fc0e2" stroke-width="1.7" stroke-opacity="0.65"/>
<text x="192.20" y="270.60" font-size="7" fill="#676b80" text-anchor="start" dominant-baseline="central" font-weight="normal" >平均目标达成率</text>
<line x1="245.3" y1="270.9" x2="249.5" y2="270.9" stroke="#f5ac4b" stroke-width="1.7" stroke-opacity="0.65"/>
<text x="253.30" y="270.60" font-size="7" fill="#676b80" text-anchor="start" dominant-baseline="central" font-weight="normal" >净销售额环比</text>
<line x1="300.0" y1="270.9" x2="304.2" y2="270.9" stroke="#8fc0e2" stroke-width="1.7" stroke-opacity="0.65"/>
<text x="308.00" y="270.60" font-size="7" fill="#676b80" text-anchor="start" dominant-baseline="central" font-weight="normal" >净销售额上年同比</text>
<line x1="46.0" y1="281.3" x2="1158.5" y2="281.3" stroke="#e2e5ee" stroke-width="0.8" stroke-dasharray="1.5 1.4"/>
<line x1="46.0" y1="307.69" x2="1158.5" y2="307.69" stroke="#e2e5ee" stroke-width="0.8" stroke-dasharray="1.5 1.4"/>
<line x1="46.0" y1="318.24" x2="1158.5" y2="318.24" stroke="#e2e5ee" stroke-width="0.8" stroke-dasharray="1.5 1.4"/>
<line x1="46.0" y1="334.07" x2="1158.5" y2="334.07" stroke="#e2e5ee" stroke-width="0.8" stroke-dasharray="1.5 1.4"/>
<line x1="46.0" y1="355.18" x2="1158.5" y2="355.18" stroke="#e2e5ee" stroke-width="0.8" stroke-dasharray="1.5 1.4"/>
<line x1="46.0" y1="360.46" x2="1158.5" y2="360.46" stroke="#e2e5ee" stroke-width="0.8" stroke-dasharray="1.5 1.4"/>
<line x1="46.0" y1="386.84" x2="1158.5" y2="386.84" stroke="#e2e5ee" stroke-width="0.8" stroke-dasharray="1.5 1.4"/>
<line x1="46.0" y1="392.12" x2="1158.5" y2="392.12" stroke="#e2e5ee" stroke-width="0.8" stroke-dasharray="1.5 1.4"/>
<line x1="46.0" y1="413.23" x2="1158.5" y2="413.23" stroke="#e2e5ee" stroke-width="0.8" stroke-dasharray="1.5 1.4"/>
<line x1="46.0" y1="429.06" x2="1158.5" y2="429.06" stroke="#e2e5ee" stroke-width="0.8" stroke-dasharray="1.5 1.4"/>
<line x1="46.0" y1="439.61" x2="1158.5" y2="439.61" stroke="#e2e5ee" stroke-width="0.8" stroke-dasharray="1.5 1.4"/>
<line x1="46.0" y1="466.0" x2="1158.5" y2="466.0" stroke="#e2e5ee" stroke-width="0.8" stroke-dasharray="1.5 1.4"/>
<text x="44.20" y="459.70" font-size="7" fill="#8b90a3" text-anchor="end" dominant-baseline="central" font-weight="normal" letter-spacing="-0.1">0万</text>
<text x="44.20" y="429.06" font-size="7" fill="#8b90a3" text-anchor="end" dominant-baseline="central" font-weight="normal" letter-spacing="-0.1">2,000万</text>
<text x="44.20" y="392.12" font-size="7" fill="#8b90a3" text-anchor="end" dominant-baseline="central" font-weight="normal" letter-spacing="-0.1">4,000万</text>
<text x="44.20" y="355.18" font-size="7" fill="#8b90a3" text-anchor="end" dominant-baseline="central" font-weight="normal" letter-spacing="-0.1">6,000万</text>
<text x="44.20" y="318.24" font-size="7" fill="#8b90a3" text-anchor="end" dominant-baseline="central" font-weight="normal" letter-spacing="-0.1">8,000万</text>
<text x="44.20" y="287.80" font-size="7" fill="#8b90a3" text-anchor="end" dominant-baseline="central" font-weight="normal" letter-spacing="-0.1">10,000万</text>
<text x="1160.40" y="459.40" font-size="7" fill="#8b90a3" text-anchor="start" dominant-baseline="central" font-weight="normal" letter-spacing="-0.1">–20.00%</text>
<text x="1160.40" y="439.61" font-size="7" fill="#8b90a3" text-anchor="start" dominant-baseline="central" font-weight="normal" letter-spacing="-0.1">0.00%</text>
<text x="1160.40" y="413.23" font-size="7" fill="#8b90a3" text-anchor="start" dominant-baseline="central" font-weight="normal" letter-spacing="-0.1">20.00%</text>
<text x="1160.40" y="386.84" font-size="7" fill="#8b90a3" text-anchor="start" dominant-baseline="central" font-weight="normal" letter-spacing="-0.1">40.00%</text>
<text x="1160.40" y="360.46" font-size="7" fill="#8b90a3" text-anchor="start" dominant-baseline="central" font-weight="normal" letter-spacing="-0.1">60.00%</text>
<text x="1160.40" y="334.07" font-size="7" fill="#8b90a3" text-anchor="start" dominant-baseline="central" font-weight="normal" letter-spacing="-0.1">80.00%</text>
<text x="1160.40" y="307.69" font-size="7" fill="#8b90a3" text-anchor="start" dominant-baseline="central" font-weight="normal" letter-spacing="-0.1">100.00%</text>
<text x="1160.40" y="287.40" font-size="7" fill="#8b90a3" text-anchor="start" dominant-baseline="central" font-weight="normal" letter-spacing="-0.1">120.00%</text>
<rect x="56.27" y="449.70" width="40" height="16.30" fill="#88a5f6"/>
<rect x="96.97" y="449.70" width="39.8" height="16.30" fill="#5266b0"/>
<text x="116.87" y="444.90" font-size="7" fill="#52566b" text-anchor="middle" dominant-baseline="central" font-weight="normal" letter-spacing="-0.1">905.73万</text>
<text x="96.57" y="472.40" font-size="7" fill="#8b90a3" text-anchor="middle" dominant-baseline="central" font-weight="normal" letter-spacing="-0.1">2024–03</text>
<rect x="157.40" y="449.70" width="40" height="16.30" fill="#88a5f6"/>
<rect x="198.10" y="450.31" width="39.8" height="15.69" fill="#5266b0"/>
<text x="218.00" y="445.51" font-size="7" fill="#52566b" text-anchor="middle" dominant-baseline="central" font-weight="normal" letter-spacing="-0.1">873.09万</text>
<text x="197.70" y="472.40" font-size="7" fill="#8b90a3" text-anchor="middle" dominant-baseline="central" font-weight="normal" letter-spacing="-0.1">2024–04</text>
<rect x="258.54" y="445.06" width="40" height="20.94" fill="#88a5f6"/>
<rect x="299.24" y="449.70" width="39.8" height="16.30" fill="#5266b0"/>
<text x="319.14" y="444.90" font-size="7" fill="#52566b" text-anchor="middle" dominant-baseline="central" font-weight="normal" letter-spacing="-0.1">905.81万</text>
<text x="298.84" y="472.40" font-size="7" fill="#8b90a3" text-anchor="middle" dominant-baseline="central" font-weight="normal" letter-spacing="-0.1">2024–05</text>
<rect x="359.68" y="444.13" width="40" height="21.87" fill="#88a5f6"/>
<rect x="400.38" y="450.28" width="39.8" height="15.72" fill="#5266b0"/>
<text x="420.28" y="445.48" font-size="7" fill="#52566b" text-anchor="middle" dominant-baseline="central" font-weight="normal" letter-spacing="-0.1">874.40万</text>
<text x="399.98" y="472.40" font-size="7" fill="#8b90a3" text-anchor="middle" dominant-baseline="central" font-weight="normal" letter-spacing="-0.1">2024–06</text>
<rect x="460.81" y="447.83" width="40" height="18.17" fill="#88a5f6"/>
<rect x="501.51" y="449.70" width="39.8" height="16.30" fill="#5266b0"/>
<text x="521.41" y="444.90" font-size="7" fill="#52566b" text-anchor="middle" dominant-baseline="central" font-weight="normal" letter-spacing="-0.1">905.79万</text>
<text x="501.11" y="472.40" font-size="7" fill="#8b90a3" text-anchor="middle" dominant-baseline="central" font-weight="normal" letter-spacing="-0.1">2024–07</text>
<rect x="561.95" y="447.65" width="40" height="18.35" fill="#88a5f6"/>
<rect x="602.65" y="449.71" width="39.8" height="16.29" fill="#5266b0"/>
<text x="622.55" y="444.91" font-size="7" fill="#52566b" text-anchor="middle" dominant-baseline="central" font-weight="normal" letter-spacing="-0.1">905.53万</text>
<text x="602.25" y="472.40" font-size="7" fill="#8b90a3" text-anchor="middle" dominant-baseline="central" font-weight="normal" letter-spacing="-0.1">2024–08</text>
<rect x="663.09" y="290.67" width="40" height="175.33" fill="#88a5f6"/>
<rect x="703.79" y="450.29" width="39.8" height="15.71" fill="#5266b0"/>
<text x="723.69" y="445.49" font-size="7" fill="#52566b" text-anchor="middle" dominant-baseline="central" font-weight="normal" letter-spacing="-0.1">874.24万</text>
<text x="703.39" y="472.40" font-size="7" fill="#8b90a3" text-anchor="middle" dominant-baseline="central" font-weight="normal" letter-spacing="-0.1">2024–09</text>
<rect x="764.22" y="437.29" width="40" height="28.71" fill="#88a5f6"/>
<rect x="804.92" y="449.66" width="39.8" height="16.34" fill="#5266b0"/>
<text x="824.82" y="444.86" font-size="7" fill="#52566b" text-anchor="middle" dominant-baseline="central" font-weight="normal" letter-spacing="-0.1">907.82万</text>
<text x="804.52" y="472.40" font-size="7" fill="#8b90a3" text-anchor="middle" dominant-baseline="central" font-weight="normal" letter-spacing="-0.1">2024–10</text>
<rect x="865.36" y="439.20" width="40" height="26.80" fill="#88a5f6"/>
<rect x="906.06" y="450.26" width="39.8" height="15.74" fill="#5266b0"/>
<text x="925.96" y="445.46" font-size="7" fill="#52566b" text-anchor="middle" dominant-baseline="central" font-weight="normal" letter-spacing="-0.1">875.71万</text>
<text x="905.66" y="472.40" font-size="7" fill="#8b90a3" text-anchor="middle" dominant-baseline="central" font-weight="normal" letter-spacing="-0.1">2024–11</text>
<rect x="966.50" y="447.79" width="40" height="18.21" fill="#88a5f6"/>
<rect x="1007.20" y="449.72" width="39.8" height="16.28" fill="#5266b0"/>
<text x="1027.10" y="444.92" font-size="7" fill="#52566b" text-anchor="middle" dominant-baseline="central" font-weight="normal" letter-spacing="-0.1">904.93万</text>
<text x="1006.80" y="472.40" font-size="7" fill="#8b90a3" text-anchor="middle" dominant-baseline="central" font-weight="normal" letter-spacing="-0.1">2024–12</text>
<rect x="1067.63" y="449.72" width="40" height="16.28" fill="#88a5f6"/>
<rect x="1108.33" y="451.45" width="39.8" height="14.55" fill="#5266b0"/>
<text x="1128.23" y="446.65" font-size="7" fill="#52566b" text-anchor="middle" dominant-baseline="central" font-weight="normal" letter-spacing="-0.1">811.45万</text>
<text x="1107.93" y="472.40" font-size="7" fill="#8b90a3" text-anchor="middle" dominant-baseline="central" font-weight="normal" letter-spacing="-0.1">2024–02</text>
<path d="M96.57,377.42 C96.57,377.42 163.99,377.42 197.70,377.42 C231.42,377.42 265.13,377.42 298.84,377.42 C332.55,377.42 366.27,377.42 399.98,377.42 C433.69,377.42 467.40,377.42 501.11,377.42 C534.83,377.42 568.54,377.42 602.25,377.42 C635.96,377.42 669.67,377.42 703.39,377.42 C737.10,377.42 770.81,377.42 804.52,377.42 C838.23,377.42 871.95,377.42 905.66,377.42 C939.37,377.42 973.08,377.42 1006.80,377.42 C1040.51,377.42 1107.93,377.42 1107.93,377.42" fill="none" stroke="#8fc0e2" stroke-width="1.8" stroke-linejoin="round" stroke-linecap="butt"/>
<path d="M96.57,307.73 C96.57,307.73 163.99,307.71 197.70,312.47 C231.42,317.24 265.13,331.07 298.84,336.33 C332.55,341.59 366.27,346.61 399.98,344.05 C433.69,341.48 467.40,324.59 501.11,320.94 C534.83,317.29 568.54,304.39 602.25,322.15 C635.96,339.90 669.67,420.56 703.39,427.48 C737.10,434.40 770.81,374.70 804.52,363.66 C838.23,352.62 871.95,368.30 905.66,361.24 C939.37,354.17 973.08,327.94 1006.80,321.29 C1040.51,314.64 1107.93,321.33 1107.93,321.33" fill="none" stroke="#6cc5b5" stroke-width="1.8" stroke-linejoin="round" stroke-linecap="butt"/>
<path d="M96.57,424.28 C96.57,424.28 163.99,442.63 197.70,444.36 C231.42,446.09 265.13,434.70 298.84,434.67 C332.55,434.64 366.27,444.16 399.98,444.19 C433.69,444.23 467.40,435.63 501.11,434.88 C534.83,434.12 568.54,438.10 602.25,439.65 C635.96,441.20 669.67,445.03 703.39,444.18 C737.10,443.33 770.81,434.53 804.52,434.55 C838.23,434.57 871.95,444.17 905.66,444.28 C939.37,444.39 1006.80,435.21 1006.80,435.21" fill="none" stroke="#f5ac4b" stroke-width="1.8" stroke-linejoin="round" stroke-linecap="butt"/>
<text x="76.27" y="444.90" font-size="7" fill="#52566b" text-anchor="middle" dominant-baseline="central" font-weight="normal" letter-spacing="-0.1">906万</text>
<text x="177.40" y="444.90" font-size="7" fill="#52566b" text-anchor="middle" dominant-baseline="central" font-weight="normal" letter-spacing="-0.1">906万</text>
<text x="278.54" y="440.26" font-size="7" fill="#52566b" text-anchor="middle" dominant-baseline="central" font-weight="normal" letter-spacing="-0.1">1,157万</text>
<text x="379.68" y="439.33" font-size="7" fill="#52566b" text-anchor="middle" dominant-baseline="central" font-weight="normal" letter-spacing="-0.1">1,207万</text>
<text x="480.81" y="443.03" font-size="7" fill="#52566b" text-anchor="middle" dominant-baseline="central" font-weight="normal" letter-spacing="-0.1">1,007万</text>
<text x="581.95" y="442.85" font-size="7" fill="#52566b" text-anchor="middle" dominant-baseline="central" font-weight="normal" letter-spacing="-0.1">1,017万</text>
<text x="683.09" y="285.87" font-size="7" fill="#52566b" text-anchor="middle" dominant-baseline="central" font-weight="normal" letter-spacing="-0.1">9,507万</text>
<text x="784.22" y="432.49" font-size="7" fill="#52566b" text-anchor="middle" dominant-baseline="central" font-weight="normal" letter-spacing="-0.1">1,577万</text>
<text x="885.36" y="431.20" font-size="7" fill="#52566b" text-anchor="middle" dominant-baseline="central" font-weight="normal" letter-spacing="-0.1">1,474万</text>
<text x="986.50" y="442.99" font-size="7" fill="#52566b" text-anchor="middle" dominant-baseline="central" font-weight="normal" letter-spacing="-0.1">1,009万</text>
<text x="1087.63" y="444.92" font-size="7" fill="#52566b" text-anchor="middle" dominant-baseline="central" font-weight="normal" letter-spacing="-0.1">905万</text>
<text x="96.57" y="370.82" font-size="7" fill="#52566b" text-anchor="middle" dominant-baseline="central" font-weight="normal" letter-spacing="-0.1" stroke="#f5f8fe" stroke-width="1.6" paint-order="stroke" stroke-linejoin="round">47.14%</text>
<text x="197.70" y="370.82" font-size="7" fill="#52566b" text-anchor="middle" dominant-baseline="central" font-weight="normal" letter-spacing="-0.1" stroke="#f5f8fe" stroke-width="1.6" paint-order="stroke" stroke-linejoin="round">47.14%</text>
<text x="298.84" y="370.82" font-size="7" fill="#52566b" text-anchor="middle" dominant-baseline="central" font-weight="normal" letter-spacing="-0.1" stroke="#f5f8fe" stroke-width="1.6" paint-order="stroke" stroke-linejoin="round">47.14%</text>
<text x="399.98" y="370.82" font-size="7" fill="#52566b" text-anchor="middle" dominant-baseline="central" font-weight="normal" letter-spacing="-0.1" stroke="#f5f8fe" stroke-width="1.6" paint-order="stroke" stroke-linejoin="round">47.14%</text>
<text x="501.11" y="370.82" font-size="7" fill="#52566b" text-anchor="middle" dominant-baseline="central" font-weight="normal" letter-spacing="-0.1" stroke="#f5f8fe" stroke-width="1.6" paint-order="stroke" stroke-linejoin="round">47.14%</text>
<text x="602.25" y="370.82" font-size="7" fill="#52566b" text-anchor="middle" dominant-baseline="central" font-weight="normal" letter-spacing="-0.1" stroke="#f5f8fe" stroke-width="1.6" paint-order="stroke" stroke-linejoin="round">47.14%</text>
<text x="703.39" y="370.82" font-size="7" fill="#52566b" text-anchor="middle" dominant-baseline="central" font-weight="normal" letter-spacing="-0.1">47.14%</text>
<text x="804.52" y="370.82" font-size="7" fill="#52566b" text-anchor="middle" dominant-baseline="central" font-weight="normal" letter-spacing="-0.1" stroke="#f5f8fe" stroke-width="1.6" paint-order="stroke" stroke-linejoin="round">47.14%</text>
<text x="905.66" y="370.82" font-size="7" fill="#52566b" text-anchor="middle" dominant-baseline="central" font-weight="normal" letter-spacing="-0.1" stroke="#f5f8fe" stroke-width="1.6" paint-order="stroke" stroke-linejoin="round">47.14%</text>
<text x="1006.80" y="370.82" font-size="7" fill="#52566b" text-anchor="middle" dominant-baseline="central" font-weight="normal" letter-spacing="-0.1" stroke="#f5f8fe" stroke-width="1.6" paint-order="stroke" stroke-linejoin="round">47.14%</text>
<text x="1107.93" y="370.82" font-size="7" fill="#52566b" text-anchor="middle" dominant-baseline="central" font-weight="normal" letter-spacing="-0.1" stroke="#f5f8fe" stroke-width="1.6" paint-order="stroke" stroke-linejoin="round">47.14%</text>
<text x="96.57" y="301.13" font-size="7" fill="#52566b" text-anchor="middle" dominant-baseline="central" font-weight="normal" letter-spacing="-0.1" stroke="#f5f8fe" stroke-width="1.6" paint-order="stroke" stroke-linejoin="round">99.97%</text>
<text x="197.70" y="305.87" font-size="7" fill="#52566b" text-anchor="middle" dominant-baseline="central" font-weight="normal" letter-spacing="-0.1" stroke="#f5f8fe" stroke-width="1.6" paint-order="stroke" stroke-linejoin="round">96.37%</text>
<text x="298.84" y="329.73" font-size="7" fill="#52566b" text-anchor="middle" dominant-baseline="central" font-weight="normal" letter-spacing="-0.1" stroke="#f5f8fe" stroke-width="1.6" paint-order="stroke" stroke-linejoin="round">78.29%</text>
<text x="399.98" y="337.45" font-size="7" fill="#52566b" text-anchor="middle" dominant-baseline="central" font-weight="normal" letter-spacing="-0.1" stroke="#f5f8fe" stroke-width="1.6" paint-order="stroke" stroke-linejoin="round">72.44%</text>
<text x="501.11" y="314.34" font-size="7" fill="#52566b" text-anchor="middle" dominant-baseline="central" font-weight="normal" letter-spacing="-0.1" stroke="#f5f8fe" stroke-width="1.6" paint-order="stroke" stroke-linejoin="round">89.95%</text>
<text x="602.25" y="315.55" font-size="7" fill="#52566b" text-anchor="middle" dominant-baseline="central" font-weight="normal" letter-spacing="-0.1" stroke="#f5f8fe" stroke-width="1.6" paint-order="stroke" stroke-linejoin="round">89.04%</text>
<text x="703.39" y="420.88" font-size="7" fill="#52566b" text-anchor="middle" dominant-baseline="central" font-weight="normal" letter-spacing="-0.1">9.20%</text>
<text x="804.52" y="357.06" font-size="7" fill="#52566b" text-anchor="middle" dominant-baseline="central" font-weight="normal" letter-spacing="-0.1" stroke="#f5f8fe" stroke-width="1.6" paint-order="stroke" stroke-linejoin="round">57.57%</text>
<text x="905.66" y="354.64" font-size="7" fill="#52566b" text-anchor="middle" dominant-baseline="central" font-weight="normal" letter-spacing="-0.1" stroke="#f5f8fe" stroke-width="1.6" paint-order="stroke" stroke-linejoin="round">59.41%</text>
<text x="1006.80" y="314.69" font-size="7" fill="#52566b" text-anchor="middle" dominant-baseline="central" font-weight="normal" letter-spacing="-0.1" stroke="#f5f8fe" stroke-width="1.6" paint-order="stroke" stroke-linejoin="round">89.69%</text>
<text x="1107.93" y="314.73" font-size="7" fill="#52566b" text-anchor="middle" dominant-baseline="central" font-weight="normal" letter-spacing="-0.1" stroke="#f5f8fe" stroke-width="1.6" paint-order="stroke" stroke-linejoin="round">89.66%</text>
<text x="96.57" y="417.68" font-size="7" fill="#52566b" text-anchor="middle" dominant-baseline="central" font-weight="normal" letter-spacing="-0.1" stroke="#f5f8fe" stroke-width="1.6" paint-order="stroke" stroke-linejoin="round">11.62%</text>
<text x="197.70" y="436.20" font-size="7" fill="#52566b" text-anchor="middle" dominant-baseline="central" font-weight="normal" letter-spacing="-0.1" stroke="#f5f8fe" stroke-width="1.6" paint-order="stroke" stroke-linejoin="round">–3.60%</text>
<text x="298.84" y="428.07" font-size="7" fill="#52566b" text-anchor="middle" dominant-baseline="central" font-weight="normal" letter-spacing="-0.1" stroke="#f5f8fe" stroke-width="1.6" paint-order="stroke" stroke-linejoin="round">3.75%</text>
<text x="399.98" y="432.80" font-size="7" fill="#52566b" text-anchor="middle" dominant-baseline="central" font-weight="normal" letter-spacing="-0.1" stroke="#f5f8fe" stroke-width="1.6" paint-order="stroke" stroke-linejoin="round">–3.47%</text>
<text x="501.11" y="428.28" font-size="7" fill="#52566b" text-anchor="middle" dominant-baseline="central" font-weight="normal" letter-spacing="-0.1" stroke="#f5f8fe" stroke-width="1.6" paint-order="stroke" stroke-linejoin="round">3.59%</text>
<text x="602.25" y="433.05" font-size="7" fill="#52566b" text-anchor="middle" dominant-baseline="central" font-weight="normal" letter-spacing="-0.1" stroke="#f5f8fe" stroke-width="1.6" paint-order="stroke" stroke-linejoin="round">–0.03%</text>
<text x="703.39" y="437.58" font-size="7" fill="#52566b" text-anchor="middle" dominant-baseline="central" font-weight="normal" letter-spacing="-0.1">–3.46%</text>
<text x="804.52" y="425.00" font-size="7" fill="#52566b" text-anchor="middle" dominant-baseline="central" font-weight="normal" letter-spacing="-0.1" stroke="#f5f8fe" stroke-width="1.6" paint-order="stroke" stroke-linejoin="round">3.84%</text>
<text x="905.66" y="437.68" font-size="7" fill="#52566b" text-anchor="middle" dominant-baseline="central" font-weight="normal" letter-spacing="-0.1">–3.54%</text>
<text x="1006.80" y="428.61" font-size="7" fill="#52566b" text-anchor="middle" dominant-baseline="central" font-weight="normal" letter-spacing="-0.1" stroke="#f5f8fe" stroke-width="1.6" paint-order="stroke" stroke-linejoin="round">3.34%</text>
</svg>
</body></html>
